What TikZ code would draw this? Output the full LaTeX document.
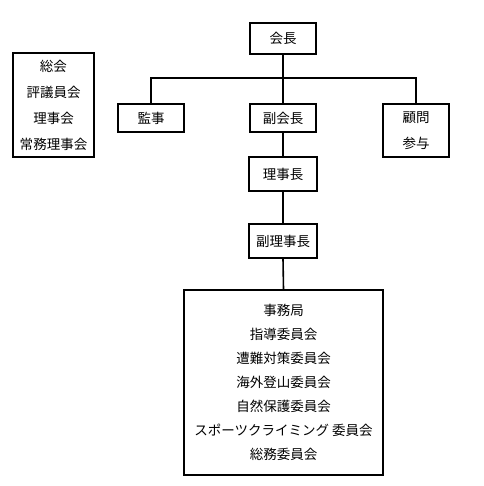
\documentclass[tikz,border=0pt]{standalone}
\usepackage{fontspec}
\newfontfamily\jpfont{Noto Sans CJK JP}
\usetikzlibrary{positioning}

\begin{document}
\begin{tikzpicture}[
  x=1pt, y=-1pt,
  post/.style={
    rectangle, draw=black, line width=1.6pt,
    fill=white, inner sep=0pt,
    minimum width=66pt, minimum height=31pt,
    align=center, font=\jpfont\fontsize{13.5}{26}\selectfont, text=black
  },
  link/.style={draw=black, line width=1.6pt}
]
\useasboundingbox (0,0) rectangle (483,486);

% Top row
\node[post] (kaicho) at (283,38.5) {会長};
\node[post, minimum height=28pt] (kanji) at (151,118) {監事};
\node[post, minimum height=28pt] (fukukaicho) at (283,118) {副会長};
\node[post, minimum height=53pt] (komon) at (416,130.5) {顧問\\参与};

% Meetings
\node[post, minimum width=81pt, minimum height=104pt] (sokai) at (53.5,105) {
  総会\\評議員会\\理事会\\常務理事会
};

% Chairmen
\node[post, minimum width=68pt, minimum height=34pt] (rijicho) at (283,174) {理事長};
\node[post, minimum width=68pt, minimum height=34pt] (fukurijicho) at (283,241) {副理事長};

% Office and committees
\node[post, minimum width=199pt, minimum height=185pt,
  font=\jpfont\fontsize{13.5}{24}\selectfont] (jimukyoku) at (283.5,382.5) {
  事務局\\
  指導委員会\\
  遭難対策委員会\\
  海外登山委員会\\
  自然保護委員会\\
  スポーツクライミング 委員会\\
  総務委員会
};

\coordinate (bar) at (283,78);

\draw[link] (kanji.north) |- (bar) -| (komon.north);
\draw[link] (kaicho.south) -- (fukukaicho.north);
\draw[link] (fukukaicho.south) -- (rijicho.north);
\draw[link] (rijicho.south) -- (fukurijicho.north);
\draw[link] (fukurijicho.south) -- (jimukyoku.north);
\end{tikzpicture}
\end{document}
